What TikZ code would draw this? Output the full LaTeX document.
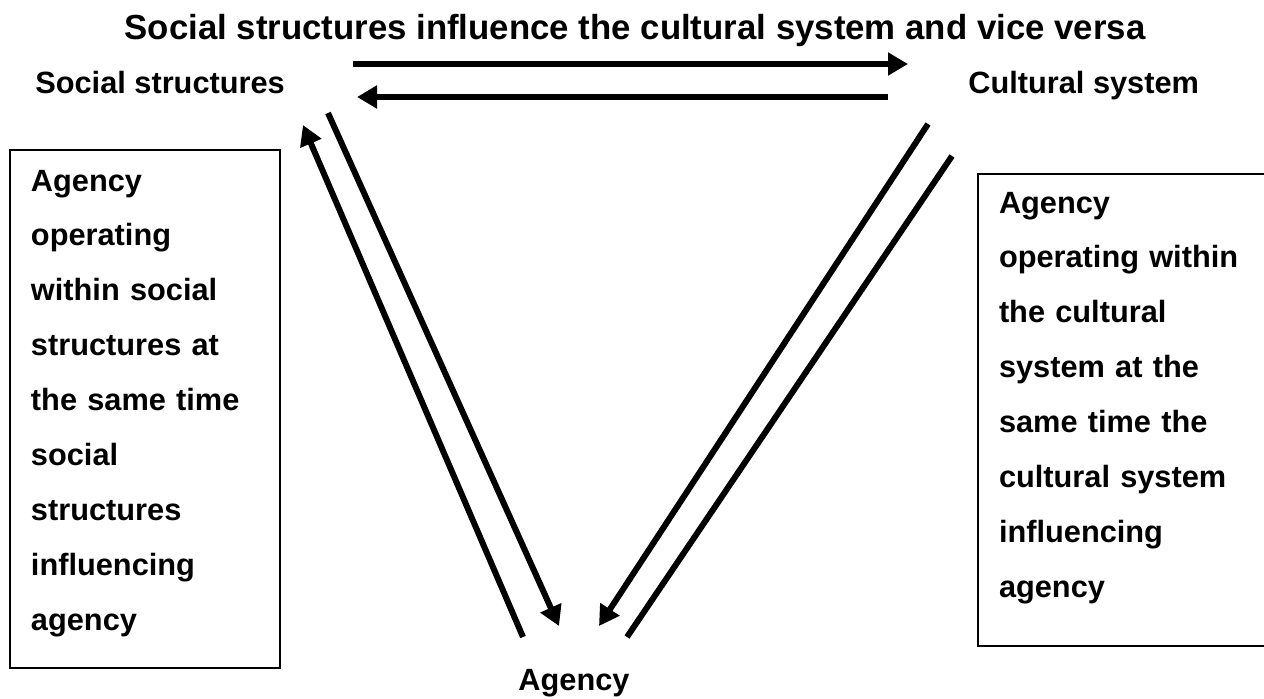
\documentclass[tikz,border=0pt]{standalone}
\usepackage{fontspec}
\setmainfont{Liberation Sans}
\usepackage{tikz}
\usetikzlibrary{arrows.meta}

\tikzset{
	lbl/.style={font=\bfseries\fontsize{17.5}{31.3}\selectfont, inner sep=0pt},
	textbox/.style={lbl, draw=black, line width=0.04cm, align=left, anchor=north west, inner ysep=0pt, inner xsep=0.42cm},
	arr/.style={line width=0.12cm, -{Triangle[length=0.4cm,width=0.44cm]}},
	bar/.style={line width=0.12cm, -}
}

\begin{document}
\begin{tikzpicture}[x=0.02cm, y=-0.02cm]
	
	\useasboundingbox (0,0) rectangle (1264,698);
	\clip (0,0) rectangle (1264,698);
	
	\node[lbl, font=\bfseries\fontsize{19.8}{24}\selectfont, anchor=base] (title) at (635, 39) {Social structures influence the cultural system and vice versa};
	\node[lbl, anchor=base west] (soc) at (35, 93)  {Social structures};
	\node[lbl, anchor=base west] (cul) at (968, 93) {Cultural system};
	\node[lbl, anchor=base] (agency) at (574, 690)  {Agency};
	
	\node[textbox, text width=4.56cm, text height=0.82cm, text depth=9.54cm] (leftbox) at (9, 149)
		{Agency\\ operating\\ within social\\ structures at\\ the same time\\ social\\ structures\\ influencing\\ agency};
	\node[textbox, text width=5.36cm, text height=0.78cm, text depth=8.66cm] (rightbox) at (977, 173)
		{Agency\\ operating within\\ the cultural\\ system at the\\ same time the\\ cultural system\\ influencing\\ agency};
	
	\coordinate (sc1) at (353, 64);
	\coordinate (sc2) at (908, 64);
	\coordinate (cs1) at (888, 97);
	\coordinate (cs2) at (357, 97);
	\coordinate (as1) at (523, 637);
	\coordinate (as2) at (303, 125);
	\coordinate (sa1) at (328, 113);
	\coordinate (sa2) at (559, 626);
	\coordinate (ca1) at (928, 124);
	\coordinate (ca2) at (599, 626);
	\coordinate (ac1) at (627, 637);
	\coordinate (ac2) at (952, 156);
	
	\path[arr] (sc1) edge (sc2);
	\path[arr] (cs1) edge (cs2);
	\path[arr] (as1) edge (as2);
	\path[arr] (sa1) edge (sa2);
	\path[arr] (ca1) edge (ca2);
	\path[bar] (ac1) edge (ac2);
	
\end{tikzpicture}
\end{document}
